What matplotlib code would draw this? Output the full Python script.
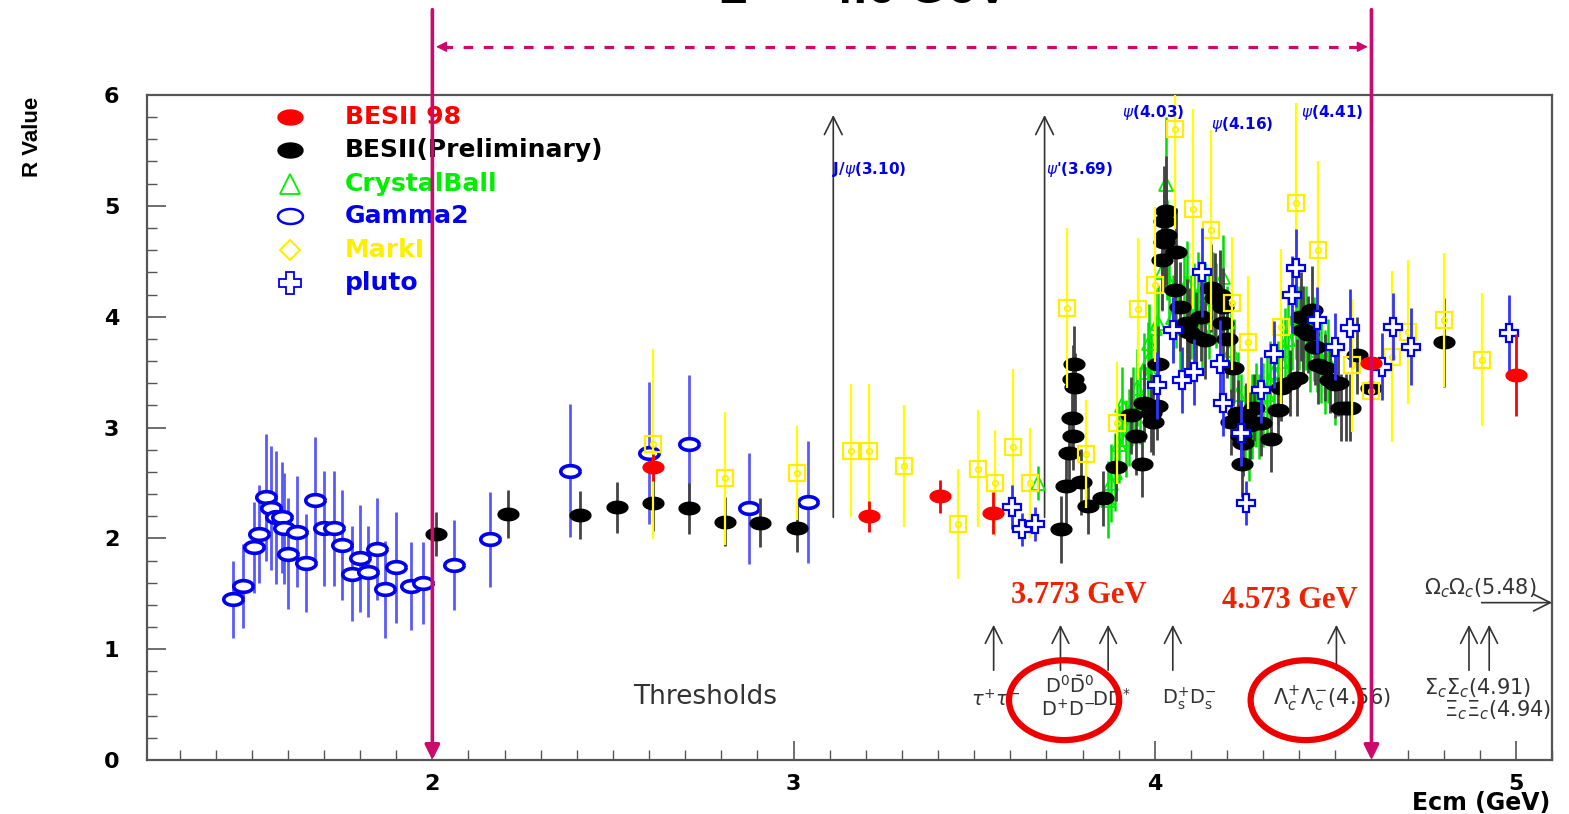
import numpy as np
import matplotlib.pyplot as plt
from matplotlib.path import Path
from matplotlib.patches import Ellipse
from matplotlib.ticker import MultipleLocator

plt.rcParams['font.family'] = ['DejaVu Sans']
plt.rcParams['mathtext.fontset'] = 'dejavusans'

# ---- data ----
gamma2_x = [1.447, 1.477, 1.505, 1.52, 1.54, 1.552, 1.566, 1.585, 1.59, 1.60, 1.624, 1.65, 1.676, 1.70,
            1.727, 1.75, 1.778, 1.80, 1.823, 1.848, 1.87, 1.898, 1.94, 1.975, 2.06, 2.16, 2.38, 2.60,
            2.71, 2.876, 3.04]
gamma2_y = [1.45, 1.57, 1.92, 2.04, 2.37, 2.27, 2.19, 2.19, 2.09, 1.86, 2.06, 1.78, 2.35, 2.09,
            2.09, 1.94, 1.68, 1.82, 1.70, 1.90, 1.54, 1.74, 1.57, 1.60, 1.76, 1.99, 2.61, 2.77,
            2.85, 2.27, 2.33]
gamma2_e = [0.35, 0.38, 0.41, 0.44, 0.57, 0.56, 0.6, 0.5, 0.5, 0.5, 0.5, 0.44, 0.56, 0.52,
            0.52, 0.5, 0.43, 0.48, 0.41, 0.46, 0.44, 0.5, 0.4, 0.37, 0.41, 0.43, 0.6, 0.64,
            0.62, 0.5, 0.55]

besii_x = [2.01, 2.21, 2.41, 2.51, 2.61, 2.71, 2.81, 2.907, 3.01,
           3.74, 3.754, 3.762, 3.77, 3.773, 3.773, 3.776, 3.78, 3.795, 3.815, 3.856, 3.893,
           3.934, 3.947, 3.964, 3.97, 3.99, 3.994, 4.006, 4.008, 4.02, 4.025, 4.027, 4.03, 4.03,
           4.055, 4.06, 4.069, 4.09, 4.094, 4.113, 4.127, 4.14, 4.155, 4.168, 4.18, 4.19, 4.19,
           4.20, 4.21, 4.217, 4.23, 4.24, 4.242, 4.245, 4.254, 4.265, 4.276, 4.295, 4.323, 4.34,
           4.35, 4.374, 4.395, 4.406, 4.41, 4.423, 4.434, 4.443, 4.452, 4.47, 4.485, 4.50, 4.506,
           4.517, 4.53, 4.54, 4.56, 4.60, 4.80]
besii_y = [2.04, 2.22, 2.21, 2.28, 2.32, 2.27, 2.15, 2.14, 2.09,
           2.08, 2.47, 2.77, 3.09, 2.92, 3.44, 3.57, 3.37, 2.51, 2.29, 2.36, 2.64,
           3.11, 2.92, 2.67, 3.22, 3.13, 3.05, 3.19, 3.57, 4.51, 4.67, 4.86, 4.95, 4.74,
           4.24, 4.58, 4.09, 3.94, 3.86, 3.82, 4.00, 3.79, 4.26, 4.17, 4.20, 4.09, 3.94,
           3.80, 3.05, 3.54, 3.13, 2.92, 2.67, 2.86, 3.10, 3.02, 3.18, 3.04, 2.90, 3.16,
           3.36, 3.40, 3.45, 4.00, 3.88, 3.84, 4.06, 3.73, 3.56, 3.54, 3.43, 3.39, 3.40,
           3.18, 3.18, 3.18, 3.65, 3.36, 3.77]
besii_e = [0.2, 0.22, 0.22, 0.23, 0.25, 0.23, 0.22, 0.22, 0.21,
           0.3, 0.35, 0.35, 0.3, 0.3, 0.3, 0.35, 0.3, 0.3, 0.25, 0.25, 0.3,
           0.35, 0.35, 0.3, 0.35, 0.35, 0.3, 0.3, 0.35, 0.45, 0.45, 0.5, 0.5, 0.45,
           0.4, 0.4, 0.4, 0.4, 0.4, 0.4, 0.4, 0.35, 0.4, 0.4, 0.4, 0.35, 0.35,
           0.35, 0.3, 0.35, 0.3, 0.3, 0.3, 0.3, 0.3, 0.3, 0.3, 0.3, 0.3, 0.3,
           0.3, 0.3, 0.35, 0.4, 0.4, 0.35, 0.4, 0.35, 0.35, 0.3, 0.3, 0.3, 0.3,
           0.3, 0.3, 0.3, 0.35, 0.3, 0.4]

besi98_x = [2.61, 3.21, 3.405, 3.552, 4.60, 5.0]
besi98_y = [2.64, 2.20, 2.38, 2.23, 3.58, 3.47]
besi98_e = [0.12, 0.14, 0.15, 0.19, 0.15, 0.37]

markI_x = [2.61, 2.81, 3.01, 3.16, 3.21, 3.306, 3.455, 3.51, 3.557, 3.607, 3.655, 3.756, 3.81,
           3.895, 3.953, 4.0, 4.055, 4.105, 4.155, 4.213, 4.257, 4.35, 4.39, 4.451, 4.545, 4.60,
           4.656, 4.70, 4.80, 4.905]
markI_y = [2.85, 2.54, 2.59, 2.79, 2.79, 2.65, 2.13, 2.63, 2.50, 2.82, 2.50, 4.08, 2.76,
           3.04, 4.07, 4.29, 5.69, 4.97, 4.78, 4.12, 3.77, 3.91, 5.03, 4.60, 3.56, 3.33,
           3.64, 3.86, 3.97, 3.61]
markI_e = [0.86, 0.6, 0.42, 0.6, 0.6, 0.55, 0.5, 0.53, 0.48, 0.71, 0.5, 0.72, 0.49,
           0.55, 0.64, 0.7, 0.9, 0.9, 0.9, 0.6, 0.6, 0.7, 0.9, 0.8, 0.6, 0.5,
           0.77, 0.65, 0.6, 0.6]

pluto_x = [3.604, 3.632, 3.668, 4.005, 4.05, 4.075, 4.11, 4.13, 4.18, 4.19, 4.24, 4.252, 4.295,
           4.33, 4.38, 4.39, 4.448, 4.50, 4.54, 4.63, 4.66, 4.71, 4.98]
pluto_y = [2.28, 2.08, 2.13, 3.38, 3.88, 3.43, 3.50, 4.40, 3.57, 3.22, 2.95, 2.32, 3.34,
           3.66, 4.20, 4.44, 3.97, 3.73, 3.90, 3.55, 3.91, 3.73, 3.85]
pluto_e = [0.2, 0.15, 0.15, 0.3, 0.3, 0.3, 0.3, 0.4, 0.4, 0.3, 0.3, 0.2, 0.3,
           0.3, 0.35, 0.35, 0.3, 0.3, 0.35, 0.3, 0.3, 0.35, 0.35]

cball_x = [3.676, 3.87, 3.88, 3.89, 3.90, 3.91, 3.92, 3.93, 3.94, 3.95, 3.96, 3.97, 3.98, 3.985,
           3.99, 4.00, 4.01, 4.02, 4.025, 4.03, 4.035, 4.04, 4.05, 4.06, 4.07, 4.08, 4.09, 4.10,
           4.11, 4.12, 4.13, 4.14, 4.15, 4.16, 4.17, 4.18, 4.19, 4.20, 4.21, 4.22, 4.23, 4.24,
           4.25, 4.26, 4.27, 4.28, 4.29, 4.30, 4.31, 4.32, 4.33, 4.34, 4.35, 4.36, 4.37, 4.38,
           4.39, 4.40, 4.41, 4.42, 4.43, 4.44, 4.45, 4.46, 4.47, 4.48, 4.50]
cball_y = [2.50, 2.35, 2.50, 2.60, 2.85, 3.20, 2.90, 3.00, 3.20, 3.36, 3.20, 3.50, 3.60, 3.76,
           3.50, 3.90, 3.94, 4.40, 4.70, 5.20, 4.60, 4.30, 4.00, 4.10, 3.90, 4.20, 4.30, 4.00,
           4.10, 4.20, 3.90, 4.10, 4.00, 4.20, 4.10, 4.20, 4.36, 3.90, 3.70, 3.60, 3.30, 3.10,
           3.00, 2.90, 3.10, 3.20, 3.10, 3.20, 3.30, 3.40, 3.50, 3.40, 3.60, 3.70, 3.80, 3.90,
           4.00, 3.90, 3.80, 3.90, 3.70, 3.80, 3.70, 3.60, 3.50, 3.60, 3.40]
cball_e = [0.15] + [0.35] * 18 + [0.6, 0.45] + [0.38] * 46

legend_names = ["BESII 98", "BESII(Preliminary)", "CrystalBall", "Gamma2", "MarkI", "pluto"]

# resonances (label, x, y of text)
res_arrows = [3.11, 3.695]
res_labels = [(r"J/$\psi$(3.10)", 3.107, 5.33), (r"$\psi$'(3.69)", 3.70, 5.33),
              (r"$\psi$(4.03)", 3.995, 5.84), (r"$\psi$(4.16)", 4.243, 5.73),
              (r"$\psi$(4.41)", 4.49, 5.84)]

# production thresholds
thr_x = [3.554, 3.739, 3.871, 4.05, 4.503, 4.87, 4.926]

magenta = '#cc0a6e'
blue = '#0000ee'

fig = plt.figure(figsize=(15.69, 8.14), dpi=100)
ax = fig.add_axes([0.0937, 0.0663, 0.8955, 0.817])
ax.set_xlim(1.21, 5.1)
ax.set_ylim(0, 6)

t = np.linspace(0, 2 * np.pi, 41)
oval = Path(np.column_stack([np.cos(t), 0.6 * np.sin(t)]))


def points(x, y, e, ecol, z, elw=2.0, **kw):
    ax.errorbar(x, y, yerr=e, fmt='none', ecolor=ecol, elinewidth=elw, capsize=0, zorder=z)
    ax.plot(x, y, ls='none', zorder=z + 0.5, **kw)


points(cball_x, cball_y, cball_e, '#00dd00', 1, elw=1.8,
       marker='^', ms=10, mfc='none', mec='#00ee00', mew=1.3)
points(gamma2_x, gamma2_y, gamma2_e, '#5a5aff', 2,
       marker=oval, ms=14, mfc='white', mec=blue, mew=2.6)
points(besii_x, besii_y, besii_e, '#444444', 3,
       marker=oval, ms=15, mfc='black', mec='black')
points(markI_x, markI_y, markI_e, '#ffff00', 4, elw=1.6,
       marker='s', ms=11, mfc='none', mec='#ffee00', mew=1.6)
ax.plot(markI_x, markI_y, ls='none', marker='o', ms=4, mfc='none', mec='#ffee00', mew=1.2, zorder=4.6)
points(pluto_x, pluto_y, pluto_e, '#3333ff', 5,
       marker='P', ms=13, mfc='white', mec=blue, mew=1.6)
points(besi98_x, besi98_y, besi98_e, 'red', 6,
       marker=oval, ms=15, mfc='red', mec='red')

# legend, drawn by hand like the ROOT original
leg_y = [5.80, 5.50, 5.20, 4.91, 4.60, 4.30]
leg_col = ['red', 'black', '#00ee00', blue, '#ffee00', blue]
leg_mk = [dict(marker=oval, ms=18, mfc='red', mec='red'),
          dict(marker=oval, ms=18, mfc='black', mec='black'),
          dict(marker='^', ms=14, mfc='none', mec='#00ee00', mew=1.3),
          dict(marker=oval, ms=18, mfc='white', mec=blue, mew=1.8),
          dict(marker='D', ms=10, mfc='none', mec='#ffee00', mew=1.5),
          dict(marker='P', ms=16, mfc='white', mec=blue, mew=1.3)]
for name, yy, col, mk in zip(legend_names, leg_y, leg_col, leg_mk):
    ax.plot([1.607], [yy], ls='none', zorder=7, **mk)
    ax.text(1.757, yy, name, color=col, fontsize=18, fontweight='bold', va='center', zorder=7)

# resonance arrows
for xr in res_arrows:
    ax.annotate('', xy=(xr, 5.82), xytext=(xr, 2.19),
                arrowprops=dict(arrowstyle='->', color='#333333', lw=1.2, mutation_scale=32,
                                shrinkA=0, shrinkB=0), zorder=1)
for lab, xl, yl in res_labels:
    ha = 'left' if xl < 3.8 else 'center'
    ax.text(xl, yl, lab, color=blue, fontsize=11, fontweight='bold', ha=ha, va='center', zorder=7)

# thresholds
for xt in thr_x:
    ax.annotate('', xy=(xt, 1.22), xytext=(xt, 0.81),
                arrowprops=dict(arrowstyle='->', color='#333333', lw=1.2, mutation_scale=30,
                                shrinkA=0, shrinkB=0))
ax.annotate('', xy=(5.1, 1.42), xytext=(4.905, 1.42), annotation_clip=False,
            arrowprops=dict(arrowstyle='->', color='#333333', lw=1.2, mutation_scale=30,
                            shrinkA=0, shrinkB=0))
tc = '#333333'
ax.text(2.755, 0.57, "Thresholds", fontsize=19, color=tc, ha='center', va='center')
ax.text(3.56, 0.54, r"$\tau^{+}\tau^{-}$", fontsize=14, color=tc, ha='center', va='center')
ax.text(3.765, 0.67, r"$\mathrm{D^{0}\bar{D}^{0}}$", fontsize=14, color=tc, ha='center', va='center')
ax.text(3.76, 0.45, r"$\mathrm{D^{+}D^{-}}$", fontsize=14, color=tc, ha='center', va='center')
ax.text(3.88, 0.55, r"$\mathrm{D\bar{D}^{*}}$", fontsize=14, color=tc, ha='center', va='center')
ax.text(4.095, 0.55, r"$\mathrm{D^{+}_{s}D^{-}_{s}}$", fontsize=14, color=tc, ha='center', va='center')
ax.text(4.49, 0.55, r"$\Lambda^{+}_{c}\Lambda^{-}_{c}$(4.56)", fontsize=15, color=tc, ha='center', va='center')
ax.text(4.745, 0.65, r"$\Sigma_{c}\Sigma_{c}$(4.91)", fontsize=15, color=tc, ha='left', va='center')
ax.text(4.80, 0.45, r"$\Xi_{c}\Xi_{c}$(4.94)", fontsize=15, color=tc, ha='left', va='center')
ax.text(4.745, 1.55, r"$\Omega_{c}\Omega_{c}$(5.48)", fontsize=15, color=tc, ha='left', va='center')

# red highlights
ax.text(3.79, 1.48, "3.773 GeV", family='Liberation Serif', fontweight='bold', fontsize=22,
        color='#ee2200', ha='center', va='center', zorder=8)
ax.text(4.373, 1.44, "4.573 GeV", family='Liberation Serif', fontweight='bold', fontsize=22,
        color='#ee2200', ha='center', va='center', zorder=8)
ax.add_patch(Ellipse((3.749, 0.54), 0.305, 0.72, fill=False, ec='#ee0000', lw=4.5, zorder=8))
ax.add_patch(Ellipse((4.418, 0.54), 0.305, 0.72, fill=False, ec='#ee0000', lw=4.5, zorder=8))

# energy range marks (magenta)
for xe in [2.0, 4.6]:
    ax.annotate('', xy=(xe, 0), xytext=(xe, 6.77), annotation_clip=False,
                arrowprops=dict(arrowstyle='-|>', color=magenta, lw=2.6, mutation_scale=22,
                                shrinkA=0, shrinkB=0), zorder=10)
ax.plot([2.03, 4.57], [6.435, 6.435], color=magenta, lw=2.3, ls=(0, (3, 3.3)), clip_on=False, zorder=10)
ax.annotate('', xy=(2.01, 6.435), xytext=(2.05, 6.435), annotation_clip=False,
            arrowprops=dict(arrowstyle='-|>', color=magenta, lw=1, mutation_scale=16, shrinkA=0, shrinkB=0))
ax.annotate('', xy=(4.59, 6.435), xytext=(4.55, 6.435), annotation_clip=False,
            arrowprops=dict(arrowstyle='-|>', color=magenta, lw=1, mutation_scale=16, shrinkA=0, shrinkB=0))
# title sits partly above the top edge, as in the original
fig.text(0.459, 0.9965, "2 \u2014 4.6 GeV", family='Liberation Sans', fontsize=36, fontweight='bold',
         ha='left', va='baseline')

# axes styling
for s in ax.spines.values():
    s.set_color('#555555')
    s.set_linewidth(1.6)
ax.xaxis.set_major_locator(MultipleLocator(1))
ax.xaxis.set_minor_locator(MultipleLocator(0.1))
ax.yaxis.set_major_locator(MultipleLocator(1))
ax.yaxis.set_minor_locator(MultipleLocator(0.2))
ax.tick_params(which='both', direction='in', top=False, right=False, color='#555555')
ax.tick_params(which='major', length=14, width=1.2)
ax.tick_params(which='minor', length=7, width=1)
ax.tick_params(axis='x', pad=10)
ax.tick_params(axis='y', pad=20)
for lb in ax.get_xticklabels() + ax.get_yticklabels():
    lb.set_fontweight('bold')
    lb.set_fontsize(16)

fig.text(0.021, 0.832, "R Value", rotation=90, family='Liberation Sans', fontsize=16,
         fontweight='bold', ha='center', va='center')
fig.text(0.988, 0.013, "Ecm (GeV)", fontsize=17, fontweight='bold', ha='right', va='center')

fig.savefig('out.png', dpi=100)
